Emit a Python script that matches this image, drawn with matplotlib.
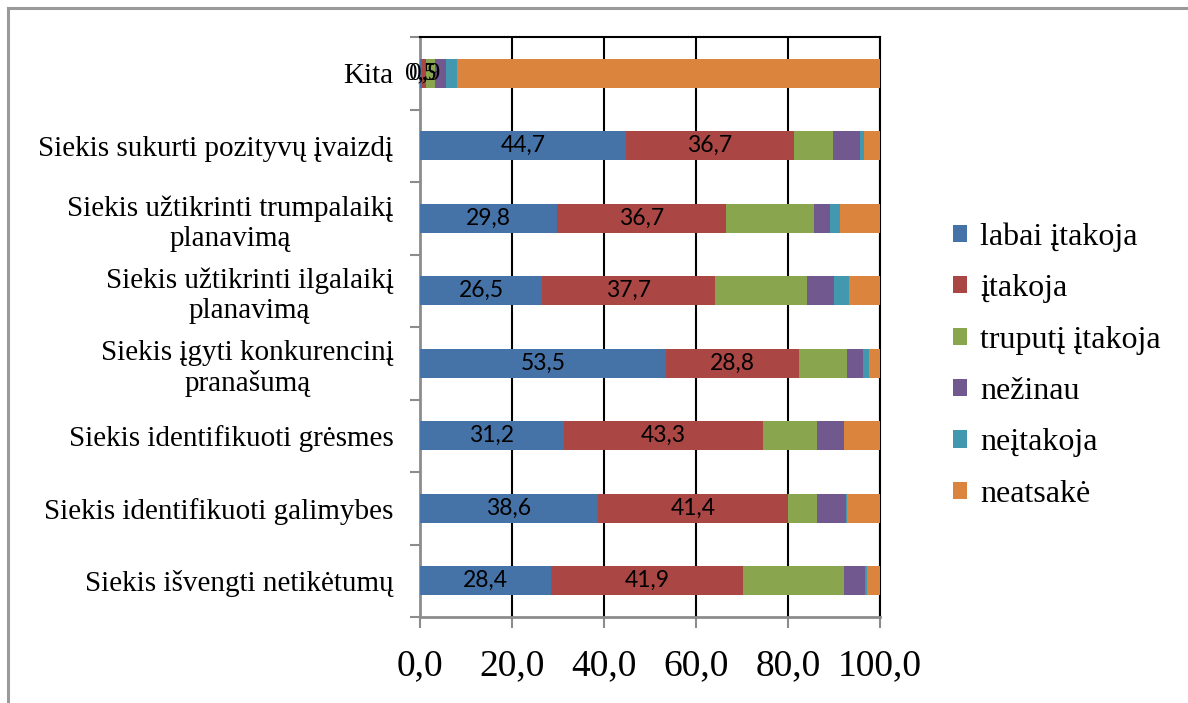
import matplotlib
matplotlib.use("Agg")
import matplotlib.pyplot as plt
from matplotlib.lines import Line2D
import numpy as np

categories = [
    "Siekis išvengti netikėtumų",
    "Siekis identifikuoti galimybes",
    "Siekis identifikuoti grėsmes",
    "Siekis įgyti konkurencinį\npranašumą",
    "Siekis užtikrinti ilgalaikį\nplanavimą",
    "Siekis užtikrinti trumpalaikį\nplanavimą",
    "Siekis sukurti pozityvų įvaizdį",
    "Kita",
]

series_names = ["labai įtakoja", "įtakoja", "truputį įtakoja", "nežinau", "neįtakoja", "neatsakė"]

labai_itakoja = [28.4, 38.6, 31.2, 53.5, 26.5, 29.8, 44.7, 0.5]
itakoja = [41.9, 41.4, 43.3, 28.8, 37.7, 36.7, 36.7, 0.9]
truputi_itakoja = [21.9, 6.4, 11.9, 10.6, 20.0, 19.1, 8.3, 1.9]
nezinau = [4.6, 6.1, 5.8, 3.3, 5.8, 3.6, 6.0, 2.4]
neitakoja = [0.4, 0.4, 0.0, 1.5, 3.3, 2.0, 0.9, 2.4]
neatsake = [2.8, 7.1, 7.8, 2.3, 6.7, 8.8, 3.4, 91.9]

series = [labai_itakoja, itakoja, truputi_itakoja, nezinau, neitakoja, neatsake]
colors = ["#4572A7", "#AA4643", "#89A54E", "#71588F", "#4198AF", "#DB843D"]

serif = ["Liberation Serif", "DejaVu Serif"]
sans = ["Lato", "DejaVu Sans"]

fig = plt.figure(figsize=(11.88, 7.03), dpi=100)
ax = fig.add_axes([420 / 1188, 86 / 703, 460 / 1188, 580 / 703])

y = np.arange(len(categories))
left = np.zeros(len(categories))
for name, vals, col in zip(series_names, series, colors):
    vals = np.array(vals)
    ax.barh(y, vals, left=left, height=0.4, color=col, label=name,
            edgecolor="none", zorder=3)
    if name in ("labai įtakoja", "įtakoja"):
        for i, v in enumerate(vals):
            txt = f"{v:.1f}".replace(".", ",")
            cx = left[i] + v / 2
            if categories[i] == "Kita":
                ax.text(cx, y[i], txt, ha="center", va="center", fontsize=18,
                        family=serif, color="black", zorder=5, clip_on=False)
            else:
                ax.text(cx, y[i], txt, ha="center", va="center", fontsize=16.5,
                        family=sans, color="black", zorder=5)
    left = left + vals

ax.set_xlim(0, 100)
ax.set_ylim(-0.5, len(categories) - 0.5)

xt = np.arange(0, 101, 20)
ax.set_xticks(xt)
ax.set_xticklabels([f"{v:.1f}".replace(".", ",") for v in xt], family=serif, fontsize=27)
for v in xt[1:]:
    ax.axvline(v, color="black", lw=1.5, zorder=2)

ax.set_yticks(y)
ax.set_yticklabels(categories, family=serif, fontsize=21)
for lbl in ax.get_yticklabels():
    lbl.set_multialignment("center")
ax.set_yticks(np.arange(-0.5, len(categories)), minor=True)
ax.tick_params(axis="y", which="major", length=0, pad=19)
ax.tick_params(axis="y", which="minor", length=7, width=1.5, color="#8c8c8c")
ax.tick_params(axis="x", which="major", length=8, width=1.5, color="#8c8c8c", pad=15)

for s in ("left", "bottom"):
    ax.spines[s].set_color("#8c8c8c")
    ax.spines[s].set_linewidth(2)
for s in ("top", "right"):
    ax.spines[s].set_color("black")
    ax.spines[s].set_linewidth(1.5)

fig.legend(loc="center left", bbox_to_anchor=(953 / 1188, 0.480), frameon=False,
           prop={"family": serif, "size": 23}, handlelength=0.45, handleheight=0.45,
           handletextpad=0.4, labelspacing=0.7, borderpad=0, borderaxespad=0)

# outer frame of the chart area
fig.add_artist(Line2D([8 / 1188, 8 / 1188], [0, 1 - 8 / 703], transform=fig.transFigure,
                      color="#9a9a9a", lw=2.2))
fig.add_artist(Line2D([8 / 1188, 1], [1 - 8 / 703, 1 - 8 / 703], transform=fig.transFigure,
                      color="#9a9a9a", lw=2.2))

fig.savefig("out.png", dpi=100)
